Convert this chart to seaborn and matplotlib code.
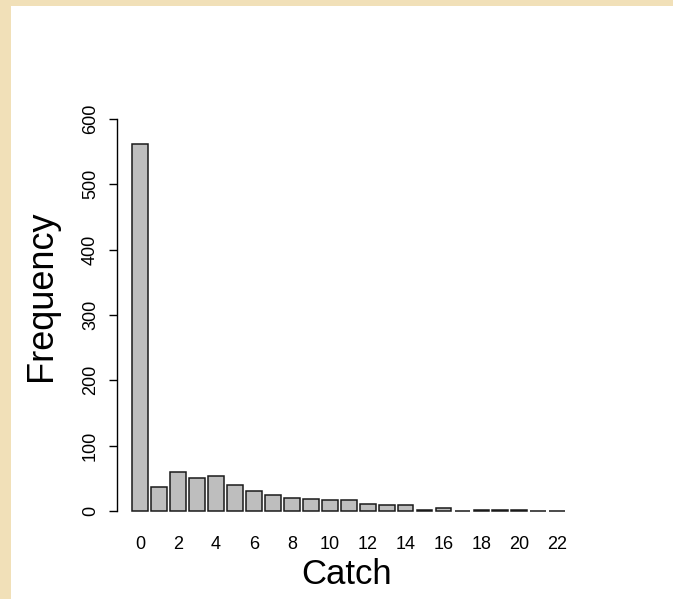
import matplotlib
matplotlib.use("Agg")
import matplotlib.pyplot as plt
import seaborn as sns
import pandas as pd
from matplotlib.patches import Rectangle

# Data
catch = list(range(23))
frequency = [562, 37, 59, 51, 54, 40, 31, 25, 20, 19, 17, 17,
             11, 9, 9, 1, 4, 0, 1, 1, 2, 0, 0]
xtick_values = list(range(0, 23, 2))
ytick_values = [0, 100, 200, 300, 400, 500, 600]

df = pd.DataFrame({"Catch": catch, "Frequency": frequency})

sns.set_style("white")
plt.rcParams["font.family"] = ["Liberation Sans", "DejaVu Sans"]
plt.rcParams["text.color"] = "black"
plt.rcParams["axes.labelcolor"] = "black"

W, H = 673, 599
fig = plt.figure(figsize=(W / 100, H / 100), dpi=100)
fig.patch.set_facecolor("#F1E0B8")
fig.patches.append(Rectangle((11 / W, 0), 1 - 11 / W, (H - 6) / H,
                             transform=fig.transFigure, facecolor="white",
                             edgecolor="none", zorder=-10))

ax_left, ax_right = 117, 580
ax_bottom, ax_top = 511, 119
ax = fig.add_axes([ax_left / W, (H - ax_bottom) / H,
                   (ax_right - ax_left) / W, (ax_bottom - ax_top) / H])
ax.set_zorder(5)
ax.set_facecolor("none")

sns.barplot(data=df, x="Catch", y="Frequency", color="#BEBEBE",
            saturation=1, width=1 / 1.2, edgecolor="#1a1a1a",
            linewidth=1.1, ax=ax)

ax.set_xlim(-1.222, 23.2)
ax.set_ylim(0, 600)
for p in ax.patches:
    p.set_clip_on(False)

for s in ["top", "right", "bottom"]:
    ax.spines[s].set_visible(False)
ax.spines["left"].set_bounds(0, 600)
ax.spines["left"].set_color("black")
ax.spines["left"].set_linewidth(1.0)

ax.set_xticks(xtick_values)
ax.set_xticklabels([str(v) for v in xtick_values], fontsize=13)
ax.tick_params(axis="x", length=0, pad=18, colors="black")

ax.set_yticks(ytick_values)
ax.set_yticklabels([str(v) for v in ytick_values], fontsize=13,
                   rotation=90, va="center")
ax.tick_params(axis="y", length=6, width=1, direction="out", pad=7,
               colors="black", left=True)

ax.set_xlabel("Catch", fontsize=25, va="center", color="black")
ax.xaxis.set_label_coords((347 - ax_left) / (ax_right - ax_left),
                          (ax_bottom - 575) / (ax_bottom - ax_top))
ax.set_ylabel("Frequency", fontsize=26, va="center", color="black")
ax.yaxis.set_label_coords((42 - ax_left) / (ax_right - ax_left),
                          (ax_bottom - 296) / (ax_bottom - ax_top))

fig.savefig("out.png", dpi=100, facecolor=fig.get_facecolor())
